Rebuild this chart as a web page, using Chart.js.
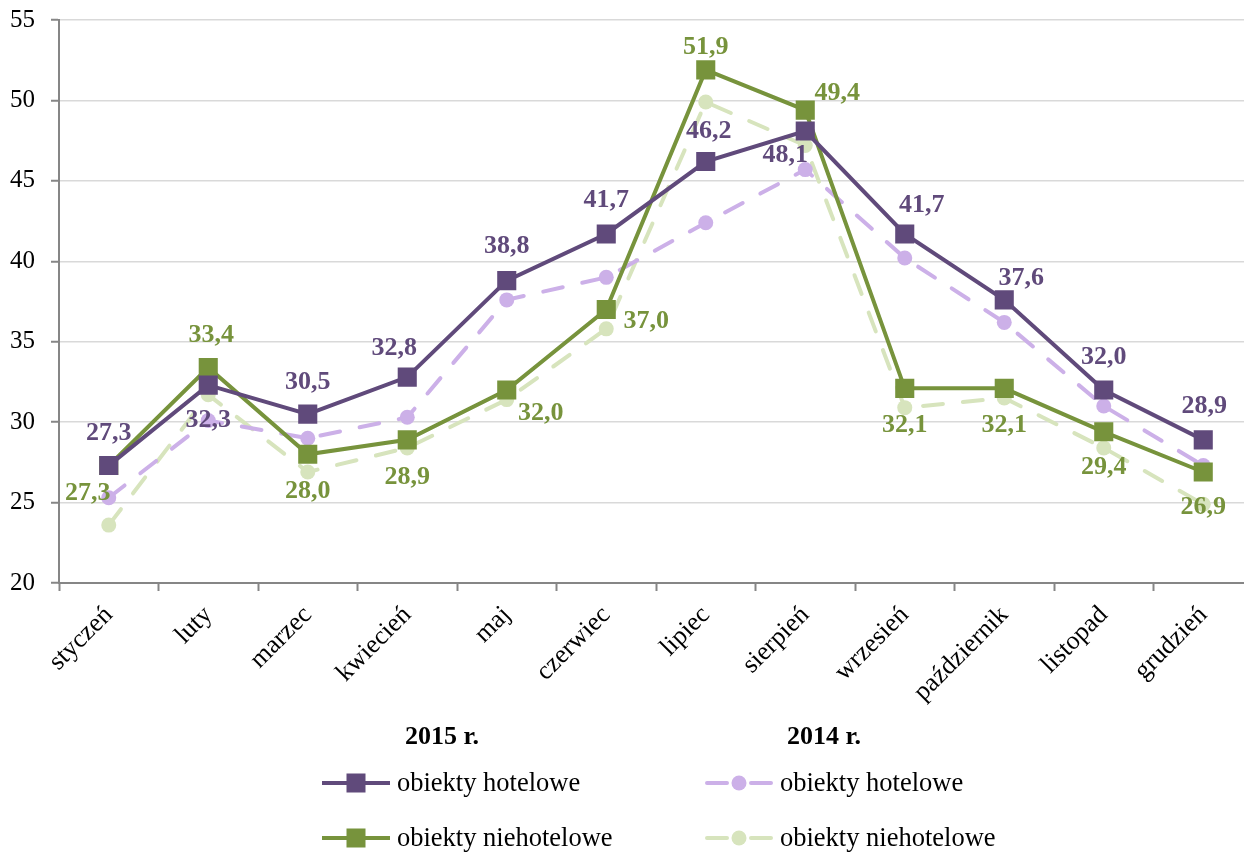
<!DOCTYPE html>
<html>
<head>
<meta charset="utf-8">
<script src="https://cdn.jsdelivr.net/npm/chart.js@4.4.0/dist/chart.umd.min.js"></script>
<style>
  html, body { margin: 0; padding: 0; background: #fff; overflow: hidden; }
  #wrap { width: 1262px; height: 854px; position: relative; }
</style>
</head>
<body>
<div id="wrap"><canvas id="chart"></canvas></div>
<script>
// dane
const months = ['styczeń', 'luty', 'marzec', 'kwiecień', 'maj', 'czerwiec', 'lipiec', 'sierpień', 'wrzesień', 'październik', 'listopad', 'grudzień'];
const hotel2015 = [27.3, 32.3, 30.5, 32.8, 38.8, 41.7, 46.2, 48.1, 41.7, 37.6, 32.0, 28.9];
const nonHotel2015 = [27.3, 33.4, 28.0, 28.9, 32.0, 37.0, 51.9, 49.4, 32.1, 32.1, 29.4, 26.9];
const hotel2014 = [25.3, 30.1, 29.0, 30.3, 37.6, 39.0, 42.4, 45.7, 40.2, 36.2, 31.0, 27.3];
const nonHotel2014 = [23.6, 31.7, 26.9, 28.4, 31.4, 35.8, 49.9, 47.2, 30.9, 31.5, 28.4, 24.9];
const yearTitles = ['2015 r.', '2014 r.'];
const seriesNames = ['obiekty hotelowe', 'obiekty niehotelowe'];

const SERIF = '"Liberation Serif", "Times New Roman", serif';
const AXIS_GREY = '#868686';

// gdzie stoi etykieta wartości względem punktu (dx, dy)
const labelOffsets = [
  [[0, -32], [0, 35], [0, -32], [-13, -29], [0, -34], [0, -34], [3, -30], [-20, 24], [17, -29], [17, -22], [0, -33], [1, -34]],
  [[-21, 28], [3, -32], [0, 37], [0, 37], [34, 23], [40, 12], [0, -23], [32, -17], [0, 37], [0, 37], [0, 35], [0, 35]]
];

const valueLabels = {
  id: 'valueLabels',
  afterDatasetsDraw(chart) {
    const ctx = chart.ctx;
    ctx.save();
    ctx.font = 'bold 26px ' + SERIF;
    ctx.textAlign = 'center';
    ctx.textBaseline = 'middle';
    labelOffsets.forEach((offs, di) => {
      const meta = chart.getDatasetMeta(di);
      const ds = chart.data.datasets[di];
      ctx.fillStyle = ds.borderColor;
      meta.data.forEach((pt, i) => {
        const txt = ds.data[i].toFixed(1).replace('.', ',');
        ctx.fillText(txt, pt.x + offs[i][0], pt.y + offs[i][1]);
      });
    });
    ctx.restore();
  }
};

// legenda w dwóch kolumnach: 2015 r. i 2014 r.
const yearLegend = {
  id: 'yearLegend',
  afterDraw(chart) {
    const ctx = chart.ctx;
    const cols = [{ x: 322, titleX: 442 }, { x: 705, titleX: 824 }];
    const rows = [783, 838];
    ctx.save();
    cols.forEach((col, c) => {
      ctx.font = 'bold 26px ' + SERIF;
      ctx.fillStyle = '#000';
      ctx.textAlign = 'center';
      ctx.textBaseline = 'middle';
      ctx.fillText(yearTitles[c], col.titleX, 737);
      rows.forEach((y, r) => {
        const ds = chart.data.datasets[c * 2 + r];
        const x0 = col.x, x1 = col.x + 68, xm = (x0 + x1) / 2;
        ctx.strokeStyle = ds.borderColor;
        ctx.fillStyle = ds.borderColor;
        ctx.lineWidth = 4;
        if (ds.borderDash && ds.borderDash.length) {
          ctx.lineCap = 'round';
          ctx.beginPath();
          ctx.moveTo(x0 + 2, y); ctx.lineTo(x0 + 22, y);
          ctx.moveTo(x1 - 22, y); ctx.lineTo(x1 - 2, y);
          ctx.stroke();
          ctx.beginPath();
          ctx.arc(xm, y, 7.5, 0, Math.PI * 2);
          ctx.fill();
        } else {
          ctx.lineCap = 'butt';
          ctx.beginPath();
          ctx.moveTo(x0, y); ctx.lineTo(x1, y);
          ctx.stroke();
          ctx.fillRect(xm - 9.5, y - 9.5, 19, 19);
        }
        ctx.font = '26.5px ' + SERIF;
        ctx.fillStyle = '#000';
        ctx.textAlign = 'left';
        ctx.fillText(seriesNames[r], x1 + 7, y + 1);
      });
    });
    ctx.restore();
  }
};

function solid(label, data, color) {
  return {
    label: label, data: data,
    borderColor: color, backgroundColor: color,
    borderWidth: 4, pointStyle: 'rect', pointRadius: 13.5,
    pointBorderWidth: 0, pointHoverRadius: 13.5, tension: 0
  };
}
function dashed(label, data, color) {
  return {
    label: label, data: data,
    borderColor: color, backgroundColor: color,
    borderWidth: 4, borderDash: [20, 20], borderCapStyle: 'round',
    pointStyle: 'circle', pointRadius: 7.5,
    pointBorderWidth: 0, pointHoverRadius: 7.5, tension: 0
  };
}

new Chart(document.getElementById('chart'), {
  type: 'line',
  data: {
    labels: months,
    datasets: [
      solid(seriesNames[0], hotel2015, '#604A7B'),
      solid(seriesNames[1], nonHotel2015, '#77933C'),
      dashed(seriesNames[0], hotel2014, '#CCB0E8'),
      dashed(seriesNames[1], nonHotel2014, '#D7E4BD')
    ]
  },
  options: {
    responsive: true,
    maintainAspectRatio: false,
    animation: false,
    layout: { autoPadding: false, padding: { top: 20, right: 9, bottom: 141, left: 0 } },
    scales: {
      x: {
        offset: true,
        grid: { display: true, drawOnChartArea: false, offset: true, tickLength: 8, tickColor: AXIS_GREY, tickWidth: 2 },
        border: { color: AXIS_GREY, width: 2 },
        ticks: { color: '#000', font: { family: SERIF, size: 26 }, maxRotation: 45, minRotation: 45, autoSkip: false, padding: 9 },
        afterFit(scale) { scale.height = 130; }
      },
      y: {
        min: 20, max: 55,
        grid: { color: '#d9d9d9', lineWidth: 1.5, tickLength: 8, tickColor: AXIS_GREY, tickWidth: 2 },
        border: { color: AXIS_GREY, width: 2 },
        ticks: { stepSize: 5, color: '#000', font: { family: SERIF, size: 25 }, padding: 16 },
        afterFit(scale) {
          scale.width = 59;
          scale.paddingTop = 15;
          scale.paddingBottom = 15;
        }
      }
    },
    plugins: {
      legend: { display: false },
      tooltip: { enabled: false }
    }
  },
  plugins: [valueLabels, yearLegend]
});
</script>
</body>
</html>
